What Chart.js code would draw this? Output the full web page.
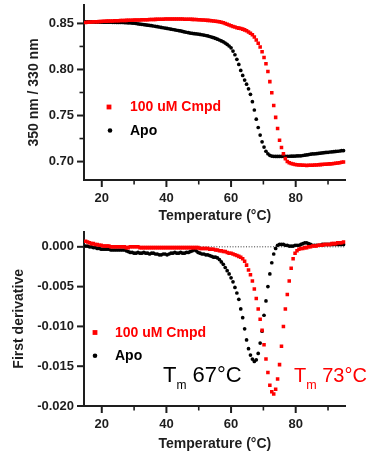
<!DOCTYPE html>
<html>
<head>
<meta charset="utf-8">
<script src="https://cdn.jsdelivr.net/npm/chart.js@4.4.1/dist/chart.umd.min.js"></script>
<style>
  html, body { margin: 0; padding: 0; background: #ffffff; overflow: hidden; }
  #page { position: relative; width: 372px; height: 453px; }
  .panel { position: absolute; left: 0; width: 372px; }
</style>
</head>
<body>
<div id="page">
  <div class="panel" style="top:0;height:228px"><canvas id="ratio"></canvas></div>
  <div class="panel" style="top:228px;height:225px"><canvas id="deriv"></canvas></div>
</div>
<script>
// ---- data: melt scan sampled every 0.6 °C ----
const temps = [
  15,15.6,16.2,16.8,17.4,18,18.6,19.2,19.8,20.4,
  21,21.6,22.2,22.8,23.4,24,24.6,25.2,25.8,26.4,
  27,27.6,28.2,28.8,29.4,30,30.6,31.2,31.8,32.4,
  33,33.6,34.2,34.8,35.4,36,36.6,37.2,37.8,38.4,
  39,39.6,40.2,40.8,41.4,42,42.6,43.2,43.8,44.4,
  45,45.6,46.2,46.8,47.4,48,48.6,49.2,49.8,50.4,
  51,51.6,52.2,52.8,53.4,54,54.6,55.2,55.8,56.4,
  57,57.6,58.2,58.8,59.4,60,60.6,61.2,61.8,62.4,
  63,63.6,64.2,64.8,65.4,66,66.6,67.2,67.8,68.4,
  69,69.6,70.2,70.8,71.4,72,72.6,73.2,73.8,74.4,
  75,75.6,76.2,76.8,77.4,78,78.6,79.2,79.8,80.4,
  81,81.6,82.2,82.8,83.4,84,84.6,85.2,85.8,86.4,
  87,87.6,88.2,88.8,89.4,90,90.6,91.2,91.8,92.4,
  93,93.6,94.2,94.8
];

// 350/330 nm ratio, 100 uM compound
const ratioCmpd = [
  .8510,.8512,.8513,.8515,.8517,.8518,.8519,.8521,.8522,.8523,
  .8524,.8525,.8526,.8526,.8527,.8528,.8529,.8530,.8531,.8531,
  .8532,.8533,.8534,.8535,.8535,.8536,.8537,.8538,.8538,.8539,
  .8540,.8541,.8541,.8542,.8543,.8543,.8544,.8545,.8545,.8546,
  .8546,.8547,.8547,.8547,.8548,.8548,.8548,.8548,.8547,.8547,
  .8547,.8546,.8546,.8545,.8545,.8544,.8543,.8542,.8541,.8540,
  .8538,.8537,.8535,.8533,.8531,.8529,.8527,.8524,.8521,.8517,
  .8513,.8508,.8500,.8491,.8482,.8474,.8466,.8460,.8454,.8449,
  .8444,.8438,.8430,.8420,.8407,.8393,.8376,.8352,.8320,.8284,
  .8245,.8193,.8130,.8062,.7978,.7868,.7748,.7610,.7480,.7360,
  .7232,.7152,.7085,.7032,.7002,.6988,.6979,.6973,.6969,.6966,
  .6964,.6962,.6960,.6959,.6958,.6959,.6960,.6961,.6963,.6964,
  .6966,.6967,.6968,.6970,.6972,.6973,.6975,.6977,.6979,.6981,
  .6984,.6988,.6992,.6995
];

// 350/330 nm ratio, apo protein
const ratioApo = [
  .8517,.8517,.8516,.8516,.8516,.8515,.8515,.8515,.8514,.8514,
  .8514,.8513,.8513,.8513,.8512,.8512,.8511,.8511,.8510,.8510,
  .8509,.8508,.8507,.8506,.8504,.8502,.8499,.8496,.8493,.8490,
  .8487,.8484,.8481,.8478,.8475,.8472,.8469,.8465,.8461,.8457,
  .8453,.8449,.8446,.8442,.8438,.8434,.8430,.8426,.8422,.8418,
  .8413,.8408,.8404,.8399,.8395,.8392,.8389,.8387,.8384,.8381,
  .8377,.8373,.8369,.8364,.8358,.8352,.8345,.8337,.8329,.8320,
  .8310,.8300,.8287,.8272,.8255,.8235,.8200,.8160,.8110,.8055,
  .7990,.7935,.7885,.7840,.7790,.7730,.7650,.7560,.7460,.7370,
  .7288,.7215,.7158,.7112,.7085,.7068,.7060,.7057,.7056,.7056,
  .7056,.7057,.7056,.7057,.7058,.7058,.7059,.7059,.7060,.7061,
  .7062,.7063,.7066,.7069,.7072,.7076,.7080,.7083,.7084,.7086,
  .7088,.7091,.7094,.7097,.7099,.7101,.7104,.7106,.7108,.7110,
  .7112,.7115,.7118,.7120
];

// first derivative, 100 uM compound
const derivCmpd = [
  .0007,.0006,.0005,.0004,.0004,.0003,.0003,.0002,.0002,.0001,
  .0001,.0001,.0001,0,0,0,0,0,0,0,
  0,-.0001,-.0001,0,0,0,0,0,-.0001,-.0001,
  -.0001,-.0001,-.0001,-.0001,-.0001,-.0001,-.0001,-.0001,-.0001,-.0001,
  -.0001,-.0001,-.0001,-.0001,-.0001,-.0001,-.0001,-.0001,-.0001,-.0001,
  -.0001,-.0001,-.0001,-.0001,-.0001,-.0001,-.0001,-.0001,-.0001,-.0002,
  -.0002,-.0002,-.0002,-.0002,-.0003,-.0003,-.0003,-.0004,-.0004,-.0005,
  -.0005,-.0006,-.0006,-.0007,-.0008,-.0008,-.0009,-.0010,-.0011,-.0012,
  -.0013,-.0015,-.0018,-.0023,-.0029,-.0035,-.0043,-.0053,-.0065,-.0078,
  -.0091,-.0105,-.0123,-.0141,-.0158,-.0174,-.0182,-.0185,-.0179,-.0166,
  -.0148,-.0125,-.0100,-.0078,-.0060,-.0043,-.0027,-.0015,-.0008,-.0005,
  -.0003,-.0002,-.0002,-.0001,-.0001,0,0,.0001,.0001,.0001,
  .0002,.0002,.0002,.0003,.0003,.0003,.0003,.0004,.0004,.0004,
  .0005,.0005,.0005,.0006
];

// first derivative, apo protein
const derivApo = [
  .0001,.0001,0,0,-.0001,-.0001,-.0002,-.0002,-.0003,-.0003,
  -.0003,-.0003,-.0003,-.0004,-.0004,-.0004,-.0004,-.0004,-.0004,-.0004,
  -.0004,-.0005,-.0006,-.0007,-.0007,-.0008,-.0008,-.0007,-.0008,-.0008,
  -.0007,-.0008,-.0008,-.0009,-.0008,-.0008,-.0009,-.0009,-.0010,-.0010,
  -.0009,-.0009,-.0010,-.0009,-.0008,-.0008,-.0007,-.0008,-.0008,-.0007,
  -.0008,-.0008,-.0007,-.0007,-.0006,-.0005,-.0004,-.0005,-.0007,-.0008,
  -.0009,-.0009,-.0010,-.0010,-.0011,-.0012,-.0013,-.0013,-.0014,-.0016,
  -.0019,-.0022,-.0026,-.0030,-.0034,-.0039,-.0044,-.0051,-.0058,-.0066,
  -.0078,-.0089,-.0103,-.0117,-.0128,-.0136,-.0141,-.0144,-.0142,-.0134,
  -.0121,-.0106,-.0086,-.0068,-.0050,-.0034,-.0020,-.0009,-.0002,.0002,
  .0003,.0003,.0003,.0002,.0002,.0001,.0001,.0001,.0002,.0002,
  .0002,.0003,.0004,.0005,.0005,.0004,.0003,.0002,.0002,.0002,
  .0002,.0002,.0003,.0003,.0003,.0003,.0003,.0003,.0003,.0003,
  .0003,.0003,.0003,.0003
];

// axes
const tempRange = [14.5, 95.5];
const tempTicks = [20, 40, 60, 80];
const tempMinorTicks = [30, 50, 70, 90];
const ratioRange = [0.68, 0.87];
const ratioTicks = [0.70, 0.75, 0.80, 0.85];
const ratioMinorTicks = [0.725, 0.775, 0.825];
const derivRange = [-0.020, 0.0019];
const derivTicks = [0, -0.005, -0.010, -0.015, -0.020];
const baseline = [0, 0];

// melting temperatures (minimum of the first derivative)
const tmApo = 67;
const tmCmpd = 73;

const seriesNames = ['100 uM Cmpd', 'Apo'];

// ---- styling ----
const FONT = '"Liberation Sans", Arial, Helvetica, sans-serif';
const RED = '#ff0000';
const BLACK = '#000000';
const AXIS = '#1e1e1e';
Chart.defaults.font.family = FONT;
Chart.defaults.color = AXIS;

const points = vals => temps.map((t, i) => ({ x: t, y: vals[i] }));

// tick marks drawn outside the axes (long = labelled, short = minor)
const tickMarks = {
  id: 'tickMarks',
  afterDraw(chart, args, opts) {
    const ctx = chart.ctx;
    const xs = chart.scales.x, ys = chart.scales.y;
    ctx.save();
    ctx.strokeStyle = AXIS;
    const draw = (scale, values, len, width) => {
      ctx.lineWidth = width;
      values.forEach(v => {
        const p = scale.getPixelForValue(v);
        ctx.beginPath();
        if (scale.isHorizontal()) {
          ctx.moveTo(p, scale.top);
          ctx.lineTo(p, scale.top + len);
        } else {
          ctx.moveTo(scale.right, p);
          ctx.lineTo(scale.right - len, p);
        }
        ctx.stroke();
      });
    };
    draw(xs, opts.xMajor || [], 7, 2);
    draw(xs, opts.xMinor || [], 4.5, 1.6);
    draw(ys, opts.yMajor || [], 7, 2);
    draw(ys, opts.yMinor || [], 4.5, 1.6);
    ctx.restore();
  }
};

// in-plot legend and Tm labels
const notes = {
  id: 'notes',
  afterDraw(chart, args, opts) {
    const ctx = chart.ctx;
    ctx.save();
    (opts.legend || []).forEach(item => {
      ctx.fillStyle = item.color;
      if (item.shape === 'rect') {
        ctx.fillRect(item.mx - 2.4, item.y - 2.4, 4.8, 4.8);
      } else {
        ctx.beginPath();
        ctx.arc(item.mx, item.y, 2.3, 0, Math.PI * 2);
        ctx.fill();
      }
      ctx.font = 'bold 14px ' + FONT;
      ctx.textBaseline = 'middle';
      ctx.textAlign = 'left';
      ctx.fillText(item.text, item.tx, item.y + 0.5);
    });
    (opts.tm || []).forEach(t => {
      ctx.fillStyle = t.color;
      ctx.textBaseline = 'alphabetic';
      ctx.textAlign = 'left';
      let x = t.x;
      ctx.font = t.size + 'px ' + FONT;
      ctx.fillText('T', x, t.y);
      x += ctx.measureText('T').width;
      ctx.font = t.sub + 'px ' + FONT;
      ctx.fillText('m', x, t.y + 7.5);
      x += ctx.measureText('m').width;
      ctx.font = t.size + 'px ' + FONT;
      ctx.fillText(' ' + t.value + '°C', x, t.y);
    });
    ctx.restore();
  }
};

function tempAxis(height, pad) {
  return {
    type: 'linear',
    min: tempRange[0], max: tempRange[1],
    afterBuildTicks: s => { s.ticks = tempTicks.map(v => ({ value: v })); },
    afterFit: s => { s.height = height; s.paddingLeft = 0; s.paddingRight = 0; },
    grid: { display: false, drawTicks: false },
    border: { display: true, color: AXIS, width: 2 },
    ticks: { padding: pad, maxRotation: 0, autoSkip: false, color: AXIS,
             font: { size: 13, weight: 'bold' }, callback: v => String(v) },
    title: { display: true, text: 'Temperature (°C)', color: AXIS,
             font: { size: 14, weight: 'bold' }, padding: { top: 0, bottom: 0 } }
  };
}

function valueAxis(range, ticks, digits, title, titlePad) {
  return {
    type: 'linear',
    min: range[0], max: range[1],
    afterBuildTicks: s => { s.ticks = ticks.map(v => ({ value: v })); },
    afterFit: s => { s.width = 84; s.paddingTop = 0; s.paddingBottom = 0; },
    grid: { display: false, drawTicks: false },
    border: { display: true, color: AXIS, width: 2 },
    ticks: { padding: 10, autoSkip: false, color: AXIS,
             font: { size: 13, weight: 'bold' }, callback: v => Number(v).toFixed(digits) },
    title: { display: true, text: title, color: AXIS,
             font: { size: 14, weight: 'bold' }, padding: { top: titlePad, bottom: 0 } }
  };
}

function series(label, vals, color, shape, radius) {
  return {
    label, data: points(vals), showLine: false,
    backgroundColor: color, borderColor: color, borderWidth: 0,
    pointStyle: shape, pointRadius: radius, pointHoverRadius: radius,
    pointBorderWidth: 0, pointBackgroundColor: color
  };
}

const common = {
  responsive: true, maintainAspectRatio: false, animation: false,
  devicePixelRatio: 1, events: []
};

// ---- top panel: fluorescence ratio ----
new Chart(document.getElementById('ratio'), {
  type: 'scatter',
  data: {
    datasets: [
      series(seriesNames[0], ratioCmpd, RED, 'rect', 2.5),
      series(seriesNames[1], ratioApo, BLACK, 'circle', 1.85)
    ]
  },
  options: Object.assign({}, common, {
    layout: { padding: { left: 0, top: 5, right: 26.2, bottom: 3 } },
    plugins: {
      legend: { display: false }, tooltip: { enabled: false },
      tickMarks: { xMajor: tempTicks, xMinor: tempMinorTicks, yMajor: ratioTicks, yMinor: ratioMinorTicks },
      notes: {
        legend: [
          { text: seriesNames[0], color: RED, shape: 'rect', mx: 109, tx: 130, y: 107 },
          { text: seriesNames[1], color: BLACK, shape: 'circle', mx: 110, tx: 130, y: 130.5 }
        ]
      }
    },
    scales: {
      x: tempAxis(45, 10.2),
      y: valueAxis(ratioRange, ratioTicks, 2, '350 nm / 330 nm', 25.6)
    }
  }),
  plugins: [tickMarks, notes]
});

// ---- bottom panel: first derivative ----
new Chart(document.getElementById('deriv'), {
  type: 'scatter',
  data: {
    datasets: [
      series(seriesNames[0], derivCmpd, RED, 'rect', 2.5),
      series(seriesNames[1], derivApo, BLACK, 'circle', 1.85),
      {
        type: 'line', label: 'zero',
        data: tempRange.map((t, i) => ({ x: t, y: baseline[i] })),
        borderColor: '#333333', borderWidth: 1, borderDash: [1, 1.7],
        pointRadius: 0, order: 5
      }
    ]
  },
  options: Object.assign({}, common, {
    layout: { padding: { left: 0, top: 3.7, right: 26.2, bottom: 0 } },
    plugins: {
      legend: { display: false }, tooltip: { enabled: false },
      tickMarks: { xMajor: tempTicks, xMinor: tempMinorTicks, yMajor: derivTicks, yMinor: [] },
      notes: {
        legend: [
          { text: seriesNames[0], color: RED, shape: 'rect', mx: 95, tx: 115, y: 104.5 },
          { text: seriesNames[1], color: BLACK, shape: 'circle', mx: 95, tx: 115, y: 127.8 }
        ],
        tm: [
          { value: tmApo, color: BLACK, x: 163, y: 153.7, size: 22, sub: 12 },
          { value: tmCmpd, color: RED, x: 294, y: 153.7, size: 20, sub: 12.5 }
        ]
      }
    },
    scales: {
      x: tempAxis(47, 10.2),
      y: valueAxis(derivRange, derivTicks, 3, 'First derivative', 10.6)
    }
  }),
  plugins: [tickMarks, notes]
});
</script>
</body>
</html>
